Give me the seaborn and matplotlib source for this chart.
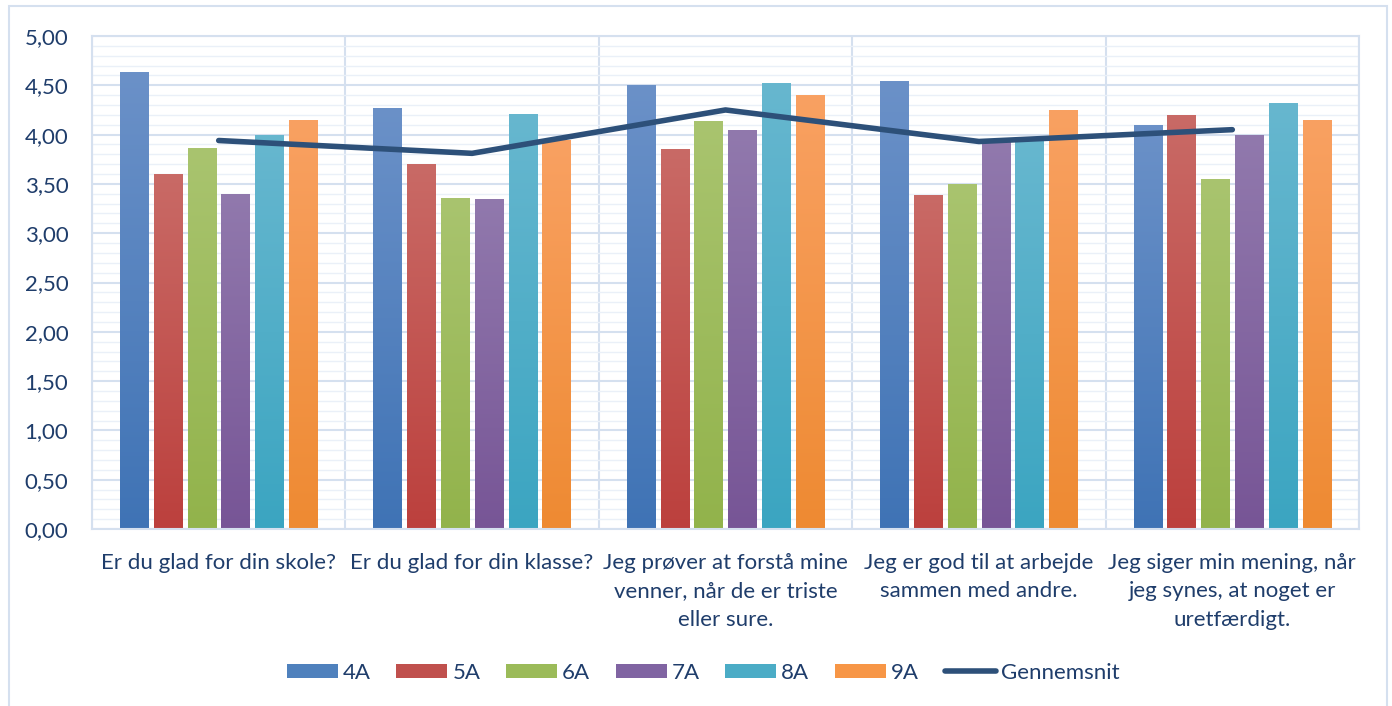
import numpy as np
import pandas as pd
import matplotlib
matplotlib.use("Agg")
import matplotlib.pyplot as plt
import seaborn as sns
from matplotlib.patches import Rectangle
from matplotlib.colors import LinearSegmentedColormap
from matplotlib.lines import Line2D
from matplotlib.patches import Patch

# ---- data ----
categories = [
    "Er du glad for din skole?",
    "Er du glad for din klasse?",
    "Jeg prøver at forstå mine\nvenner, når de er triste\neller sure.",
    "Jeg er god til at arbejde\nsammen med andre.",
    "Jeg siger min mening, når\njeg synes, at noget er\nuretfærdigt.",
]
classes = ["4A", "5A", "6A", "7A", "8A", "9A"]
v_4A = [4.63, 4.27, 4.50, 4.54, 4.10]
v_5A = [3.60, 3.70, 3.85, 3.39, 4.20]
v_6A = [3.86, 3.36, 4.14, 3.50, 3.55]
v_7A = [3.40, 3.35, 4.05, 3.93, 4.00]
v_8A = [4.00, 4.21, 4.52, 3.95, 4.32]
v_9A = [4.15, 3.95, 4.40, 4.25, 4.15]
gennemsnit = [3.94, 3.81, 4.25, 3.93, 4.05]
line_label = "Gennemsnit"
yticks = [0, 0.5, 1.0, 1.5, 2.0, 2.5, 3.0, 3.5, 4.0, 4.5, 5.0]

series = [v_4A, v_5A, v_6A, v_7A, v_8A, v_9A]
rows = []
for cls, vals in zip(classes, series):
    for cat, v in zip(categories, vals):
        rows.append({"cat": cat, "cls": cls, "val": v})
df = pd.DataFrame(rows)

# ---- style ----
base = ["#4F81BD", "#C0504D", "#9BBB59", "#8064A2", "#4BACC6", "#F79646"]
tops = ["#6B91C8", "#C96A66", "#A9C46F", "#9179AD", "#67B7CF", "#F9A162"]
bots = ["#3F73B5", "#BC403D", "#92B34B", "#775596", "#3BA5C1", "#EE8A32"]
text_c = "#1F3D6B"
grid_major = "#D5E0EF"
grid_minor = "#EAF0F8"
line_c = "#2D5079"
fs = 16

sns.set_theme(style="white")
plt.rcParams["font.family"] = ["Lato", "DejaVu Sans"]

fig = plt.figure(figsize=(13.92, 7.06), dpi=100)
ax = fig.add_axes([92 / 1392, 1 - 529 / 706, (1359 - 92) / 1392, (529 - 36) / 706])

sns.barplot(data=df, x="cat", y="val", hue="cls", palette=base, width=0.8,
            gap=0.16, ax=ax, legend=False, saturation=1, errorbar=None)

# gradient fills
for i, cont in enumerate(ax.containers):
    cmap = LinearSegmentedColormap.from_list(f"g{i}", [bots[i], tops[i]])
    grad = np.linspace(0, 1, 256).reshape(-1, 1)
    for p in cont.patches:
        x0, y0 = p.get_x(), p.get_y()
        w, h = p.get_width(), p.get_height()
        im = ax.imshow(grad, cmap=cmap, origin="lower", aspect="auto",
                       extent=[x0, x0 + w, y0, y0 + h], zorder=2)
        im.set_clip_path(p)
        p.set_facecolor("none")
        p.set_edgecolor("none")

sns.lineplot(x=np.arange(len(categories)), y=gennemsnit, ax=ax, color=line_c,
             linewidth=4.0, zorder=5, solid_capstyle="round")

ax.set_xlim(-0.5, len(categories) - 0.5)
ax.set_ylim(0, 5)
ax.set_yticks(yticks)
ax.set_yticklabels([f"{t:.2f}".replace(".", ",") for t in yticks])
ax.set_yticks(np.arange(0, 5.01, 0.1), minor=True)
ax.set_xticks(np.arange(len(categories)))
ax.set_xticklabels(categories, linespacing=1.55)
ax.set_xticks(np.arange(-0.5, len(categories), 1.0), minor=True)
ax.set_xlabel("")
ax.set_ylabel("")

ax.grid(False)
ax.grid(which="major", axis="y", color=grid_major, linewidth=1.5, zorder=0)
ax.grid(which="minor", axis="y", color=grid_minor, linewidth=1.0, zorder=0)
ax.grid(which="minor", axis="x", color=grid_major, linewidth=1.5, zorder=0)
ax.set_axisbelow(True)
ax.tick_params(axis="both", which="both", length=0)
ax.tick_params(axis="y", labelsize=fs, labelcolor=text_c, pad=17)
ax.tick_params(axis="x", labelsize=fs, labelcolor=text_c, pad=17)
for s in ax.spines.values():
    s.set_color(grid_major)
    s.set_linewidth(1.5)

# legend
handles = [Patch(facecolor=base[i], edgecolor="none") for i in range(len(classes))]
handles.append(Line2D([0], [0], color=line_c, linewidth=4.0, solid_capstyle="round"))
labels = classes + [line_label]
leg = fig.legend(handles, labels, loc="center", bbox_to_anchor=(703 / 1392, 1 - 673 / 706),
                 ncol=7, frameon=False, fontsize=fs, handlelength=2.3,
                 handleheight=0.63, handletextpad=0.22, columnspacing=1.15)
for t in leg.get_texts():
    t.set_color(text_c)

# outer chart frame (bottom edge lies below the image)
fig.patches.append(Rectangle((9 / 1392, -0.02), (1387 - 9) / 1392, 1.02 - 6 / 706,
                             transform=fig.transFigure, fill=False,
                             edgecolor=grid_major, linewidth=1.5))

fig.savefig("out.png", dpi=100)
